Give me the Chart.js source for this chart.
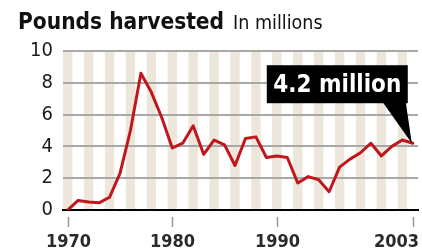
<!DOCTYPE html>
<html>
<head>
<meta charset="utf-8">
<script src="https://cdn.jsdelivr.net/npm/chart.js@4/dist/chart.umd.min.js"></script>
<style>
  html, body { margin: 0; padding: 0; background: #fff; }
  #wrap { position: relative; width: 422px; height: 251px; overflow: hidden; }
  #title { position: absolute; left: 18px; top: 10px; white-space: nowrap; line-height: 1; color: #111;
           font-family: "DejaVu Sans Condensed", "DejaVu Sans", sans-serif; }
  #title .main { font-weight: bold; font-size: 22.5px; }
  #title .sub { font-size: 19.5px; margin-left: 9px; }
  canvas { position: absolute; left: 0; top: 0; }
</style>
</head>
<body>
<div id="wrap">
  <canvas id="c" width="422" height="251"></canvas>
  <div id="title"><span class="main">Pounds harvested</span><span class="sub">In millions</span></div>
</div>
<script>
const years = [1970, 1971, 1972, 1973, 1974, 1975, 1976, 1977, 1978, 1979,
               1980, 1981, 1982, 1983, 1984, 1985, 1986, 1987, 1988, 1989,
               1990, 1991, 1992, 1993, 1994, 1995, 1996, 1997, 1998, 1999,
               2000, 2001, 2002, 2003];
const pounds = [0, 0.6, 0.5, 0.45, 0.8, 2.3, 5.0, 8.6, 7.4, 5.8,
                3.9, 4.2, 5.3, 3.5, 4.4, 4.1, 2.8, 4.5, 4.6, 3.3,
                3.4, 3.3, 1.7, 2.1, 1.9, 1.15, 2.7, 3.2, 3.6, 4.2,
                3.4, 4.0, 4.4, 4.2];
const xTickYears = [1970, 1980, 1990, 2003];
const xTickLabels = ["1970", "1980", "1990", "2003"];
const stripeYears = [1970, 1972, 1974, 1976, 1978, 1980, 1982, 1984, 1986, 1988,
                     1990, 1992, 1994, 1996, 1998, 2000, 2002];
const yTicks = [0, 2, 4, 6, 8, 10];
const calloutText = "4.2 million";

const FONT = '"DejaVu Sans Condensed", "DejaVu Sans", sans-serif';

const stripesPlugin = {
  id: 'stripes',
  beforeDraw(chart) {
    const {ctx, chartArea, scales: {x, y}} = chart;
    ctx.save();
    ctx.fillStyle = '#ece7da';
    const top = y.getPixelForValue(10);
    const bottom = y.getPixelForValue(0);
    stripeYears.forEach(yr => {
      const l = Math.max(chartArea.left, x.getPixelForValue(yr - 0.45));
      const r = x.getPixelForValue(yr + 0.45);
      ctx.fillRect(l, top, r - l, bottom - top);
    });
    ctx.restore();
  }
};

const xLabelsPlugin = {
  id: 'xlabels',
  afterDraw(chart) {
    const {ctx, chartArea, scales: {x}} = chart;
    ctx.save();
    ctx.strokeStyle = '#999';
    ctx.lineWidth = 1.5;
    ctx.fillStyle = '#2a2a2a';
    ctx.font = 'bold 18px ' + FONT;
    ctx.textBaseline = 'alphabetic';
    xTickYears.forEach((yr, i) => {
      const px = Math.round(x.getPixelForValue(yr)) + 0.5;
      ctx.beginPath();
      ctx.moveTo(px, chartArea.bottom + 7);
      ctx.lineTo(px, chartArea.bottom + 17);
      ctx.stroke();
      const w = ctx.measureText(xTickLabels[i]).width;
      let lx = px - w / 2;
      if (lx + w > chart.width - 3) lx = chart.width - 3 - w;
      ctx.textAlign = 'left';
      ctx.fillText(xTickLabels[i], lx, chartArea.bottom + 37);
    });
    ctx.restore();
  }
};

const calloutPlugin = {
  id: 'callout',
  afterDatasetsDraw(chart) {
    const {ctx} = chart;
    const meta = chart.getDatasetMeta(0);
    const pt = meta.data[meta.data.length - 1];
    const px = pt.x, py = pt.y;
    const left = px - 146, right = px - 5, top = py - 78, bottom = py - 40;
    ctx.save();
    ctx.fillStyle = '#000';
    ctx.fillRect(left, top, right - left, bottom - top);
    ctx.beginPath();
    ctx.moveTo(px - 30, bottom - 1);
    ctx.lineTo(px - 7, bottom - 1);
    ctx.lineTo(px - 1, py);
    ctx.closePath();
    ctx.fill();
    ctx.fillStyle = '#fff';
    ctx.font = 'bold 24px ' + FONT;
    ctx.textAlign = 'center';
    ctx.textBaseline = 'alphabetic';
    ctx.fillText(calloutText, (left + right) / 2, bottom - 11);
    ctx.restore();
  }
};

new Chart(document.getElementById('c'), {
  type: 'line',
  data: {
    datasets: [{
      data: years.map((yr, i) => ({x: yr, y: pounds[i]})),
      borderColor: '#c0171c',
      borderWidth: 3,
      pointRadius: 0,
      tension: 0,
      fill: false,
      borderJoinStyle: 'round',
      borderCapStyle: 'round'
    }]
  },
  options: {
    responsive: false,
    devicePixelRatio: 1,
    animation: false,
    layout: { padding: { top: 51, right: 4, left: 0, bottom: 0 } },
    plugins: { legend: { display: false }, tooltip: { enabled: false }, title: { display: false } },
    scales: {
      x: {
        type: 'linear',
        min: 1969.55,
        max: 2003.5,
        afterBuildTicks(scale) { scale.ticks = xTickYears.map(v => ({value: v})); },
        afterFit(scale) { scale.height = 41; },
        grid: { display: false },
        border: { display: true, color: '#000', width: 2 },
        ticks: { display: false }
      },
      y: {
        min: 0,
        max: 10,
        afterBuildTicks(scale) { scale.ticks = yTicks.map(v => ({value: v})); },
        afterFit(scale) { scale.width = 63; },
        grid: {
          drawTicks: false,
          color: ctx => ctx.tick && ctx.tick.value === 0 ? '#000' : '#a8a8a8',
          lineWidth: 2
        },
        border: { display: false },
        ticks: {
          padding: 10,
          color: '#1a1a1a',
          font: { family: FONT, size: 20 },
          callback: v => String(v)
        }
      }
    }
  },
  plugins: [stripesPlugin, xLabelsPlugin, calloutPlugin]
});
</script>
</body>
</html>
